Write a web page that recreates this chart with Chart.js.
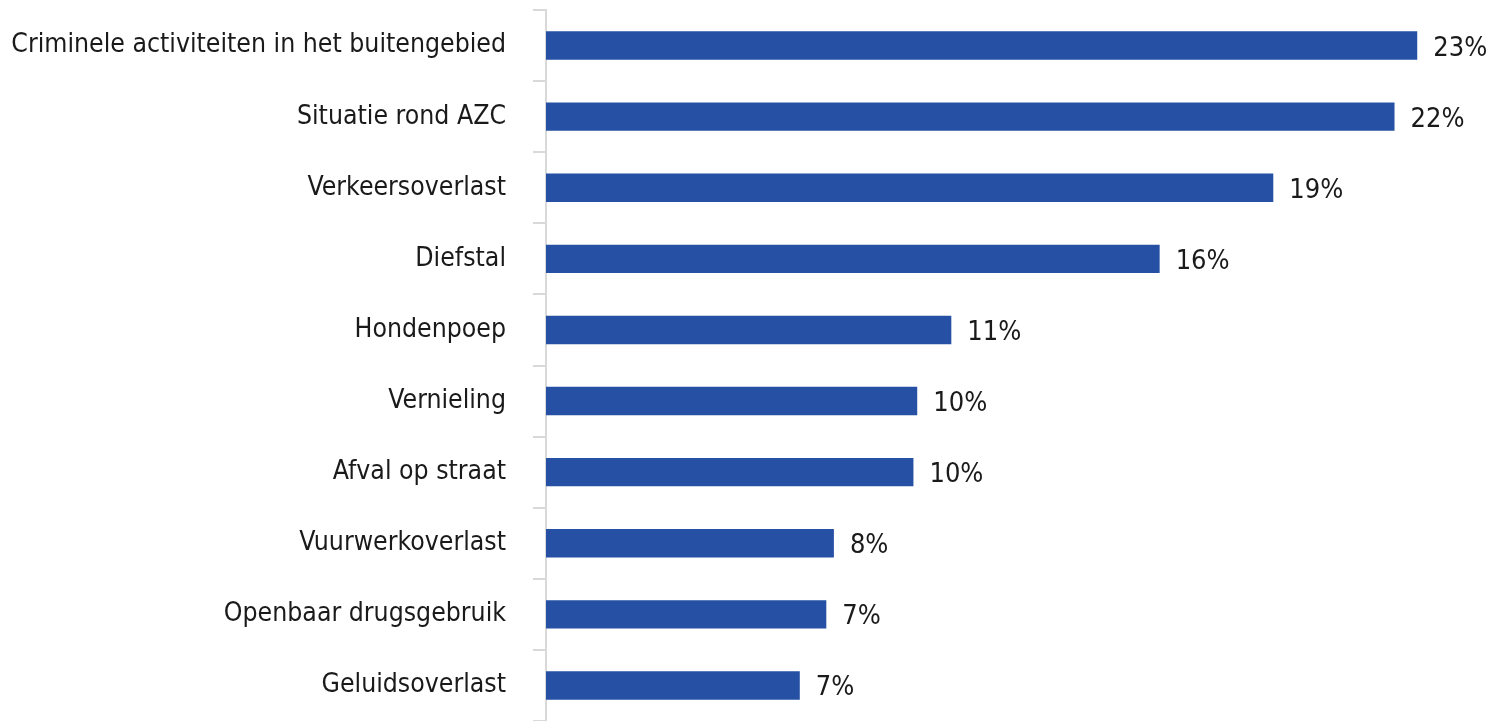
<!DOCTYPE html>
<html>
<head>
<meta charset="utf-8">
<script src="https://cdn.jsdelivr.net/npm/chart.js@4"></script>
<style>
  html, body { margin: 0; padding: 0; background: #fff; }
  #wrap { width: 1493px; height: 721px; }
</style>
</head>
<body>
<div id="wrap"><canvas id="chart"></canvas></div>
<script>
// categories, top to bottom
const categories = [
  'Criminele activiteiten in het buitengebied',
  'Situatie rond AZC',
  'Verkeersoverlast',
  'Diefstal',
  'Hondenpoep',
  'Vernieling',
  'Afval op straat',
  'Vuurwerkoverlast',
  'Openbaar drugsgebruik',
  'Geluidsoverlast'
];
// share of respondents (%)
const shares = [23.0, 22.4, 19.2, 16.2, 10.7, 9.8, 9.7, 7.6, 7.4, 6.7];

const labelFont = { family: "'DejaVu Sans Condensed', 'DejaVu Sans', sans-serif", size: 26.4 };

// draw the value next to each bar
const valueLabels = {
  id: 'valueLabels',
  afterDatasetsDraw(chart) {
    const ctx = chart.ctx;
    const meta = chart.getDatasetMeta(0);
    ctx.save();
    ctx.font = '27px ' + labelFont.family;
    ctx.fillStyle = '#1a1a1a';
    ctx.textBaseline = 'middle';
    meta.data.forEach((bar, i) => {
      ctx.fillText(Math.round(shares[i]) + '%', bar.x + 16, bar.y + 3);
    });
    ctx.restore();
  }
};

const ctx = document.getElementById('chart').getContext('2d');
new Chart(ctx, {
  type: 'bar',
  data: {
    labels: categories,
    datasets: [{
      data: shares,
      backgroundColor: '#2550a4',
      borderWidth: 0,
      barPercentage: 0.8,
      categoryPercentage: 0.5
    }]
  },
  options: {
    indexAxis: 'y',
    responsive: true,
    maintainAspectRatio: false,
    animation: false,
    layout: { padding: { top: 10, right: 0, bottom: 0, left: 0 } },
    plugins: {
      legend: { display: false },
      tooltip: { enabled: false }
    },
    scales: {
      x: {
        display: false,
        min: 0,
        max: 25
      },
      y: {
        offset: true,
        afterFit(scale) {
          scale.width = 546;
          scale.paddingTop = 0;
          scale.paddingBottom = 0;
        },
        border: { display: true, color: '#d9d9d9', width: 2 },
        grid: {
          offset: true,
          drawOnChartArea: false,
          drawTicks: true,
          tickLength: 13,
          color: '#d9d9d9',
          lineWidth: 2
        },
        ticks: {
          color: '#1a1a1a',
          padding: 27,
          font: labelFont
        }
      }
    }
  },
  plugins: [valueLabels]
});
</script>
</body>
</html>
